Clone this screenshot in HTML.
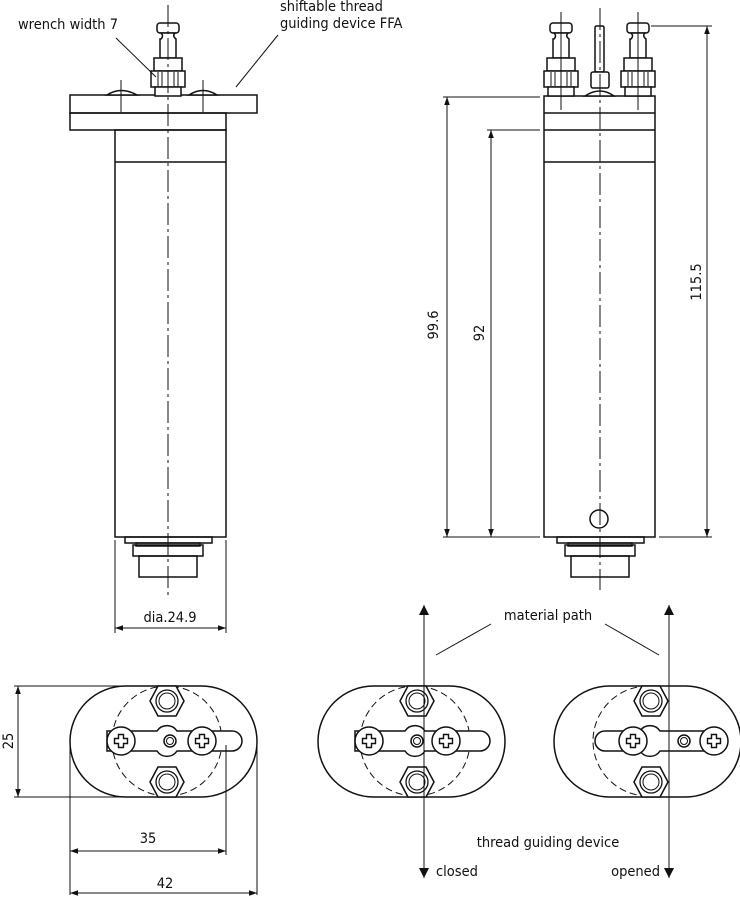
<!DOCTYPE html>
<html><head><meta charset="utf-8"><style>
html,body{margin:0;padding:0;background:#fff}
svg{display:block}
text{font-family:"DejaVu Sans Condensed","Liberation Sans",sans-serif;font-size:14.5px;fill:#111}
</style></head><body>
<svg width="740" height="899" viewBox="0 0 740 899" xmlns="http://www.w3.org/2000/svg">
<defs>
<marker id="ar" viewBox="0 0 10 10" refX="10" refY="5" markerWidth="12" markerHeight="8" markerUnits="userSpaceOnUse" orient="auto-start-reverse"><path d="M0,1.5L10,5L0,8.5z" fill="#111"/></marker>
<marker id="big" viewBox="0 0 10 10" refX="10" refY="5" markerWidth="26" markerHeight="10" markerUnits="userSpaceOnUse" orient="auto-start-reverse"><path d="M0,0L10,5L0,10z" fill="#111"/></marker>
<g id="conn" fill="#fff" stroke="#111" stroke-width="1.5">
<rect x="-11" y="-73" width="22" height="10" rx="3"/>
<path d="M-7,-63 Q-4,-60 -7,-57 L-8,-57 L-8,-38 L8,-38 L8,-57 Q4,-60 7,-63z"/>
<rect x="-14" y="-38" width="28" height="13"/>
<rect x="-17" y="-25" width="34" height="16"/>
<path d="M-10,-24V-10M-6,-24V-10M6,-24V-10M10,-24V-10" stroke-width="1"/>
<rect x="-13" y="-9" width="26" height="9"/>
</g>
<g id="nut">
<polygon points="-17,0 -9,-15 9,-15 17,0 9,15 -9,15" fill="#fff" stroke="#111" stroke-width="1.5"/>
<circle r="11" fill="none" stroke="#111" stroke-width="1.3"/>
<circle r="8" fill="none" stroke="#111" stroke-width="1"/>
</g>
<g id="screw">
<circle r="14" fill="#fff" stroke="#111" stroke-width="1.5"/>
<path d="M-2.5,-6.5h5v4h4v5h-4v4h-5v-4h-4v-5h4z" fill="none" stroke="#111" stroke-width="1.4"/>
</g>
<g id="bottom" fill="none" stroke="#111" stroke-width="1.5">
<rect x="-43" y="0" width="87" height="6"/>
<rect x="-32" y="6" width="64" height="3"/>
<rect x="-35" y="8" width="70" height="11"/>
<rect x="-29" y="19" width="58" height="21"/>
</g>
</defs>

<g fill="none" stroke="#111" stroke-width="1.5">
<rect x="70" y="95" width="187" height="18"/>
<rect x="70" y="113" width="156" height="17"/>
<rect x="115" y="130" width="111" height="407"/>
<line x1="115" y1="162" x2="226" y2="162"/>
<path d="M107,95 Q121,86 137,95z M189,95 Q203,86 217,95z" fill="#fff"/>
</g>
<use href="#conn" x="168" y="96"/>
<use href="#bottom" x="168" y="537"/>
<g stroke="#111" stroke-width="1" fill="none">
<line x1="168" y1="5" x2="168" y2="595" stroke-dasharray="22,4,3,4"/>
<line x1="121" y1="80" x2="121" y2="112"/><line x1="203" y1="80" x2="203" y2="112"/>
<line x1="156" y1="77" x2="116" y2="38"/><line x1="236" y1="87" x2="278" y2="35"/>
<line x1="115" y1="540" x2="115" y2="633"/><line x1="226" y1="540" x2="226" y2="633"/>
<line x1="115" y1="628" x2="226" y2="628" marker-start="url(#ar)" marker-end="url(#ar)"/>
</g>
<text x="18" y="29">wrench width 7</text>
<text x="280" y="11">shiftable thread</text>
<text x="280" y="28">guiding device FFA</text>
<text x="170" y="622" text-anchor="middle">dia.24.9</text>

<g fill="none" stroke="#111" stroke-width="1.5">
<rect x="544" y="96" width="111" height="441"/>
<line x1="544" y1="113" x2="655" y2="113"/>
<line x1="544" y1="130" x2="655" y2="130"/>
<line x1="544" y1="162" x2="655" y2="162"/>
<circle cx="599" cy="519" r="9"/>
<rect x="595" y="26" width="9" height="46" rx="1.5" fill="#fff"/>
<rect x="591" y="72" width="18" height="16" rx="2" fill="#fff"/>
<path d="M585,96 Q600,86 614,96z" fill="#fff"/>
</g>
<use href="#conn" x="561" y="96"/>
<use href="#conn" x="638" y="96"/>
<use href="#bottom" x="600" y="537"/>
<g stroke="#111" stroke-width="1" fill="none">
<line x1="600" y1="8" x2="600" y2="590" stroke-dasharray="22,4,3,4"/>
<line x1="561" y1="12" x2="561" y2="110"/><line x1="638" y1="12" x2="638" y2="110"/>
<line x1="443" y1="97" x2="540" y2="97"/>
<line x1="487" y1="130" x2="540" y2="130"/>
<line x1="651" y1="26" x2="712" y2="26"/>
<line x1="443" y1="537" x2="540" y2="537"/>
<line x1="659" y1="537" x2="712" y2="537"/>
<line x1="447" y1="97" x2="447" y2="537" marker-start="url(#ar)" marker-end="url(#ar)"/>
<line x1="491" y1="130" x2="491" y2="537" marker-start="url(#ar)" marker-end="url(#ar)"/>
<line x1="707" y1="26" x2="707" y2="537" marker-start="url(#ar)" marker-end="url(#ar)"/>
</g>
<text transform="translate(438,325) rotate(-90)" text-anchor="middle">99.6</text>
<text transform="translate(484,333) rotate(-90)" text-anchor="middle">92</text>
<text transform="translate(701,282) rotate(-90)" text-anchor="middle">115.5</text>

<g fill="none" stroke="#111" stroke-width="1.5">
<rect x="70" y="686" width="187" height="111" rx="55.5"/>
<circle cx="167" cy="741" r="55" stroke-dasharray="7,4" stroke-width="1"/>
<path d="M107,731 H157 A12,12 0 0 1 177,731 H232 A10,10 0 0 1 232,751 H177 A12,12 0 0 1 157,751 H107z" fill="#fff"/>
<circle cx="170" cy="741" r="6"/><circle cx="170" cy="741" r="3.5" stroke-width="1"/>
</g>
<use href="#nut" x="167" y="701"/><use href="#nut" x="167" y="782"/>
<use href="#screw" x="121" y="741"/><use href="#screw" x="202" y="741"/>
<g stroke="#111" stroke-width="1" fill="none">
<line x1="14" y1="686" x2="160" y2="686"/><line x1="14" y1="797" x2="160" y2="797"/>
<line x1="18" y1="686" x2="18" y2="797" marker-start="url(#ar)" marker-end="url(#ar)"/>
<line x1="70" y1="741" x2="70" y2="895"/><line x1="226" y1="745" x2="226" y2="855"/><line x1="257" y1="741" x2="257" y2="895"/>
<line x1="70" y1="851" x2="226" y2="851" marker-start="url(#ar)" marker-end="url(#ar)"/>
<line x1="70" y1="893" x2="257" y2="893" marker-start="url(#ar)" marker-end="url(#ar)"/>
</g>
<text transform="translate(13,741) rotate(-90)" text-anchor="middle">25</text>
<text x="148" y="843" text-anchor="middle">35</text>
<text x="165" y="888" text-anchor="middle">42</text>

<g fill="none" stroke="#111" stroke-width="1.5">
<rect x="318" y="686" width="187" height="111" rx="55.5"/>
<circle cx="415" cy="741" r="55" stroke-dasharray="7,4" stroke-width="1"/>
<path d="M355,731 H405 A12,12 0 0 1 425,731 H480 A10,10 0 0 1 480,751 H425 A12,12 0 0 1 405,751 H355z" fill="#fff"/>
<circle cx="417" cy="741" r="6"/><circle cx="417" cy="741" r="3.5" stroke-width="1"/>
</g>
<use href="#nut" x="417" y="701"/><use href="#nut" x="417" y="782"/>
<use href="#screw" x="369" y="741"/><use href="#screw" x="446" y="741"/>
<g stroke="#111" stroke-width="1" fill="none">
<line x1="424" y1="742" x2="424" y2="605" marker-end="url(#big)"/>
<line x1="424" y1="742" x2="424" y2="878" marker-end="url(#big)"/>
<line x1="436" y1="655" x2="491" y2="624"/>
<line x1="605" y1="624" x2="659" y2="655"/>
</g>
<text x="548" y="620" text-anchor="middle">material path</text>
<text x="548" y="847" text-anchor="middle">thread guiding device</text>
<text x="436" y="876">closed</text>

<g fill="none" stroke="#111" stroke-width="1.5">
<rect x="554" y="686" width="187" height="111" rx="55.5"/>
<path d="M648,686 A55,55 0 0 0 648,796" stroke-dasharray="7,4" stroke-width="1"/>
<path d="M605,731 H640 A12,12 0 0 1 660,731 H715 V751 H660 A12,12 0 0 1 640,751 H605 A10,10 0 0 1 605,731z" fill="#fff"/>
<circle cx="684" cy="741" r="6"/><circle cx="684" cy="741" r="3.5" stroke-width="1"/>
</g>
<use href="#nut" x="651" y="701"/><use href="#nut" x="651" y="782"/>
<use href="#screw" x="633" y="741"/><use href="#screw" x="714" y="741"/>
<g stroke="#111" stroke-width="1" fill="none">
<line x1="669" y1="742" x2="669" y2="605" marker-end="url(#big)"/>
<line x1="669" y1="742" x2="669" y2="878" marker-end="url(#big)"/>
</g>
<text x="660" y="876" text-anchor="end">opened</text>
</svg>
</body></html>
